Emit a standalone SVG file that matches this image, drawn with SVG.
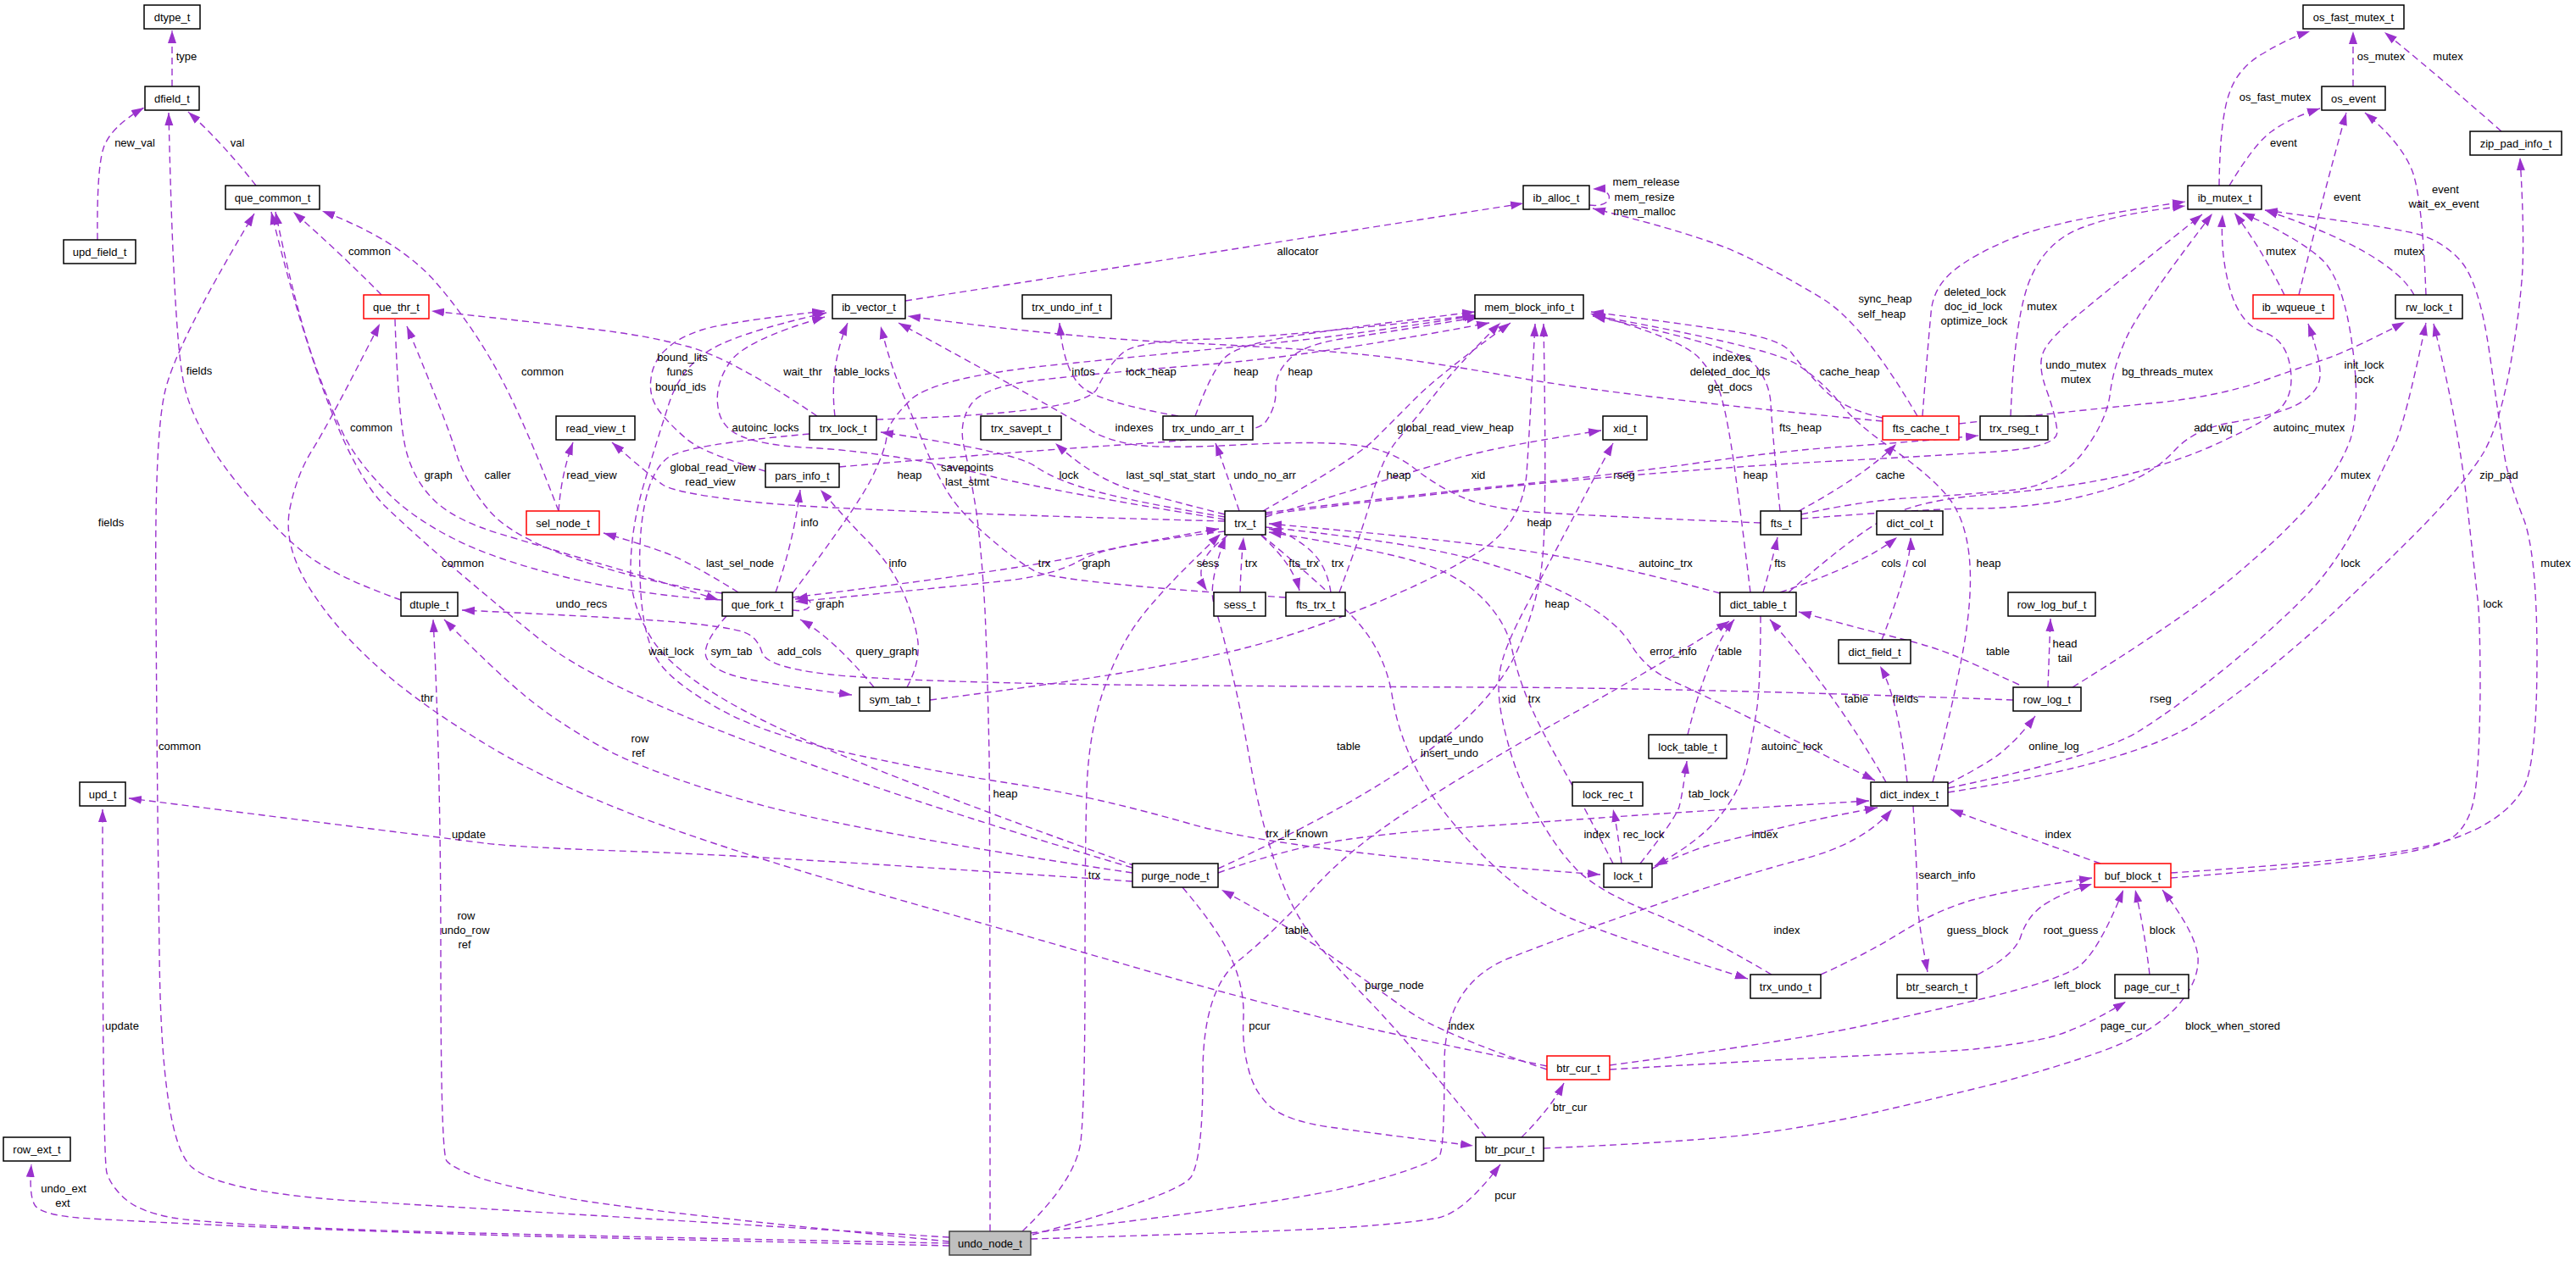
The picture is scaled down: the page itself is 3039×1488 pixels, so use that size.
<svg xmlns="http://www.w3.org/2000/svg" width="3039" height="1488" viewBox="0 0 3039 1488">
<style>
text{font-family:"Liberation Sans",Arial,Helvetica,sans-serif;font-size:13px;fill:#000;text-anchor:middle}
.n rect{fill:#fff;stroke:#000;stroke-width:1.5}
.n.r rect{stroke:#ff0000}
.n.g rect{fill:#bfbfbf;stroke:#404040}
.e path{fill:none;stroke:#9a32cd;stroke-width:1.4;stroke-dasharray:8,5;marker-end:url(#ah)}
</style>
<defs>
<marker id="ah" markerUnits="userSpaceOnUse" markerWidth="16" markerHeight="11" refX="15" refY="5.5" orient="auto"><path d="M0,0.5 L15,5.5 L0,10.5 z" fill="#9a32cd" stroke="none"/></marker>
</defs>
<rect width="3039" height="1488" fill="#fff"/>
<g id="edges" class="e">
<path d="M203,102 L203,36"/>
<path d="M115,283 Q114,200 122,175 Q130,150 170,127"/>
<path d="M302,219 Q263,169 222,132"/>
<path d="M473,708 Q400,682 365,657 Q330,632 279,569 Q228,505 217,453 Q205,400 199,133"/>
<path d="M450,348 Q400,297 346,250"/>
<path d="M659,603 Q620,500 589,442 Q557,383 514,333 Q470,283 380,249"/>
<path d="M852,708 Q760,703 671,682 Q582,660 534,635 Q485,610 456,580 Q427,550 412,525 Q397,500 373,434 Q349,367 325,250"/>
<path d="M1336,1024 Q760,853 640,757 Q520,660 455,598 Q390,535 320,250"/>
<path d="M1120,1460 Q600,1428 431,1418 Q262,1408 226,1377 Q190,1345 188,1123 Q185,900 184,710 Q182,520 194,465 Q205,410 300,252"/>
<path d="M466,377 Q470,500 480,535 Q490,570 515,593 Q540,615 590,630 Q640,645 700,663 Q760,680 848,708"/>
<path d="M852,700 Q760,687 681,660 Q601,633 575,600 Q548,567 538,534 Q528,500 480,385"/>
<path d="M1825,1258 Q1704,1233 1612,1213 Q1520,1193 1358,1147 Q1196,1100 1027,1052 Q857,1003 749,962 Q640,920 563,872 Q485,824 437,779 Q388,733 361,687 Q334,640 342,600 Q350,560 369,530 Q388,500 448,382"/>
<path d="M659,603 Q662,560 676,522"/>
<path d="M1445,615 Q993,603 896,593 Q799,583 782,572 Q765,560 722,522"/>
<path d="M903,556 Q830,535 810,518 Q789,500 777,484 Q765,467 768,447 Q770,427 785,413 Q800,398 829,389 Q857,380 973,367"/>
<path d="M964,491 Q864,423 812,409 Q760,395 695,388 Q630,380 509,367"/>
<path d="M985,491 Q978,433 1000,381"/>
<path d="M1068,355 L1797,240"/>
<path d="M2221,497 Q1908,467 1787,445 Q1665,423 1593,417 Q1520,410 1383,404 Q1245,397 1071,373"/>
<path d="M2077,617 Q1860,608 1809,604 Q1758,600 1728,588 Q1697,575 1669,553 Q1640,530 1597,525 Q1554,520 1460,525 Q1366,530 1333,524 Q1300,517 1287,508 Q1274,498 1060,381"/>
<path d="M1390,491 Q1300,475 1278,458 Q1255,440 1250,381"/>
<path d="M1034,495 Q1279,488 1294,459 Q1308,430 1325,416 Q1342,402 1431,400 Q1520,397 1740,372"/>
<path d="M1410,491 Q1429,439 1444,423 Q1458,407 1529,396 Q1600,385 1740,368"/>
<path d="M990,551 Q1196,533 1338,524 Q1480,515 1493,498 Q1506,480 1505,460 Q1504,440 1522,423 Q1540,405 1595,398 Q1650,390 1745,374"/>
<path d="M1875,242 C1905,246 1906,222 1879,223"/>
<path d="M2262,491 Q2199,383 2151,353 Q2102,323 2054,300 Q2005,277 1879,246"/>
<path d="M2221,493 Q2174,483 2150,458 Q2126,433 2114,417 Q2102,400 2044,391 Q1985,382 1877,368"/>
<path d="M2268,491 Q2275,400 2278,370 Q2280,340 2304,320 Q2328,300 2377,280 Q2425,260 2578,238"/>
<path d="M2372,491 Q2377,367 2397,325 Q2416,283 2458,268 Q2500,252 2578,243"/>
<path d="M1493,607 Q1750,575 1900,563 Q2050,550 2165,544 Q2280,538 2354,533 Q2428,528 2427,509 Q2425,490 2415,462 Q2404,433 2410,417 Q2416,400 2457,367 Q2498,333 2598,253"/>
<path d="M2125,607 Q2200,590 2264,587 Q2328,583 2377,578 Q2425,573 2455,537 Q2484,500 2489,467 Q2493,433 2508,400 Q2522,367 2610,252"/>
<path d="M2125,612 Q2280,600 2329,600 Q2377,600 2426,592 Q2474,583 2508,570 Q2542,557 2566,531 Q2590,505 2636,498 Q2682,490 2707,479 Q2731,467 2736,450 Q2741,433 2723,382"/>
<path d="M2100,603 Q2090,500 2089,475 Q2087,450 2070,430 Q2053,410 1879,373"/>
<path d="M2122,603 Q2200,561 2237,524"/>
<path d="M2080,699 Q2090,665 2097,634"/>
<path d="M2100,699 Q2200,665 2238,634"/>
<path d="M2220,755 Q2255,665 2254,634"/>
<path d="M2250,923 Q2240,825 2218,786"/>
<path d="M2225,923 Q2170,825 2088,731"/>
<path d="M1991,867 Q2015,769 2046,731"/>
<path d="M2077,727 Q2077,800 2073,834 Q2068,867 2061,900 Q2053,933 2029,963 Q2005,993 1952,1022"/>
<path d="M2029,700 Q1956,680 1884,665 Q1811,650 1738,642 Q1665,633 1497,618"/>
<path d="M1493,622 Q1665,640 1738,660 Q1811,680 1860,707 Q1908,733 1925,762 Q1942,790 1974,804 Q2005,817 2212,921"/>
<path d="M1949,1025 Q2000,1000 2033,993 Q2065,985 2108,975 Q2150,965 2215,953"/>
<path d="M1935,1019 Q1976,967 1981,952 Q1985,937 1990,898"/>
<path d="M1913,1019 Q1908,977 1903,955"/>
<path d="M1903,1019 Q1859,933 1840,900 Q1821,867 1806,834 Q1791,800 1784,767 Q1777,733 1746,703 Q1714,673 1654,658 Q1593,643 1497,628"/>
<path d="M1493,610 Q1665,557 1695,548 Q1724,538 1768,529 Q1811,520 1889,508"/>
<path d="M2090,1150 Q2005,1100 1944,1075 Q1883,1050 1859,1025 Q1835,1000 1813,960 Q1790,920 1778,873 Q1765,825 1769,796 Q1772,767 1804,709 Q1835,650 1857,609 Q1879,567 1903,523"/>
<path d="M1493,605 Q1700,580 1798,571 Q1895,561 1998,547 Q2100,532 2175,527 Q2250,522 2334,514"/>
<path d="M1488,631 Q1560,690 1597,729 Q1633,767 1642,819 Q1650,870 1675,915 Q1700,960 1750,1010 Q1800,1060 1854,1084 Q1908,1107 2062,1155"/>
<path d="M1445,610 Q1342,593 1294,580 Q1245,567 1221,550 Q1196,533 1039,510"/>
<path d="M1445,607 Q1390,593 1342,580 Q1293,567 1245,523"/>
<path d="M1462,603 Q1448,561 1434,523"/>
<path d="M1490,603 Q1600,540 1620,520 Q1640,500 1670,470 Q1700,440 1782,381"/>
<path d="M1445,613 Q1245,580 1173,563 Q1100,545 1048,538 Q995,530 948,528 Q900,525 875,515 Q850,505 847,480 Q843,455 860,429 Q876,402 973,374"/>
<path d="M1517,705 Q1245,687 1221,674 Q1196,660 1162,630 Q1128,600 1114,574 Q1099,547 1090,524 Q1080,500 1066,467 Q1051,433 1039,385"/>
<path d="M935,705 Q1196,673 1269,657 Q1342,640 1438,624"/>
<path d="M1445,627 Q1390,633 1342,642 Q1293,650 1269,664 Q1245,677 1197,684 Q1148,690 938,710"/>
<path d="M935,720 C962,724 964,702 938,707"/>
<path d="M871,699 Q808,660 784,652 Q760,643 712,629"/>
<path d="M915,699 Q936,640 944,578"/>
<path d="M1070,811 Q1085,783 1083,758 Q1080,733 1066,700 Q1051,667 1027,642 Q1002,617 968,578"/>
<path d="M1031,811 Q983,753 944,731"/>
<path d="M857,727 Q828,760 833,775 Q838,790 872,799 Q905,807 1005,820"/>
<path d="M955,512 Q808,525 788,540 Q768,555 760,598 Q752,640 756,700 Q760,760 780,785 Q800,810 853,839 Q905,867 1002,889 Q1099,910 1196,925 Q1293,940 1407,973 Q1520,1005 1888,1032"/>
<path d="M1753,1342 Q1665,1233 1617,1183 Q1568,1133 1544,1100 Q1520,1067 1504,1017 Q1487,967 1475,900 Q1463,833 1451,783 Q1439,733 1432,712 Q1425,690 1446,633"/>
<path d="M1206,1453 Q1269,1393 1275,1347 Q1280,1300 1280,1150 Q1280,1000 1282,934 Q1284,867 1301,817 Q1318,767 1342,734 Q1366,700 1440,630"/>
<path d="M1168,1453 Q1168,993 1167,892 Q1165,790 1162,720 Q1158,650 1152,605 Q1145,560 1138,530 Q1130,500 1145,478 Q1160,455 1230,448 Q1300,440 1425,430 Q1550,420 1757,381"/>
<path d="M1216,1462 Q1520,1453 1593,1448 Q1665,1443 1697,1437 Q1728,1430 1770,1374"/>
<path d="M1216,1455 Q1520,1420 1607,1397 Q1694,1373 1699,1362 Q1704,1350 1704,1255 Q1704,1160 1782,1130 Q1859,1100 1956,1067 Q2053,1033 2126,1014 Q2199,995 2232,955"/>
<path d="M1218,1457 Q1390,1410 1405,1389 Q1419,1367 1419,1267 Q1419,1167 1462,1133 Q1505,1098 1549,1049 Q1593,1000 1672,950 Q1750,900 1850,845 Q1950,790 2040,733"/>
<path d="M1120,1465 Q760,1430 671,1414 Q582,1397 558,1387 Q533,1377 527,1370 Q520,1363 520,1132 Q520,900 511,731"/>
<path d="M1336,1030 Q1000,980 880,945 Q760,910 707,880 Q654,850 618,820 Q582,790 524,731"/>
<path d="M1336,1040 Q900,1010 756,1005 Q611,1000 572,995 Q533,990 152,942"/>
<path d="M1120,1467 Q500,1455 371,1449 Q242,1443 204,1437 Q165,1430 148,1415 Q131,1400 126,1384 Q121,1367 121,955"/>
<path d="M1120,1470 Q760,1462 598,1458 Q436,1453 286,1447 Q136,1440 92,1437 Q48,1433 41,1422 Q34,1410 37,1374"/>
<path d="M1340,1022 Q1000,900 900,850 Q800,800 771,757 Q742,713 744,667 Q745,620 760,570 Q775,520 788,480 Q800,440 830,418 Q860,395 975,369"/>
<path d="M1395,1047 Q1440,1100 1454,1134 Q1468,1167 1467,1200 Q1465,1233 1473,1262 Q1480,1290 1500,1307 Q1520,1323 1569,1330 Q1617,1337 1738,1352"/>
<path d="M1825,1262 Q1700,1220 1660,1192 Q1620,1163 1570,1128 Q1520,1093 1441,1050"/>
<path d="M1795,1342 Q1830,1307 1845,1278"/>
<path d="M1821,1355 Q2005,1347 2078,1337 Q2150,1327 2215,1312 Q2280,1297 2353,1279 Q2425,1260 2484,1239 Q2542,1217 2569,1187 Q2595,1157 2593,1129 Q2590,1100 2551,1050"/>
<path d="M1899,1262 Q2102,1250 2191,1246 Q2280,1242 2329,1238 Q2377,1233 2414,1225 Q2450,1217 2508,1182"/>
<path d="M1899,1257 Q2102,1230 2191,1212 Q2280,1193 2353,1175 Q2425,1157 2450,1142 Q2474,1127 2505,1050"/>
<path d="M2536,1150 Q2530,1098 2519,1050"/>
<path d="M2333,1150 Q2377,1127 2384,1105 Q2391,1083 2408,1070 Q2425,1057 2468,1043"/>
<path d="M2148,1150 Q2199,1127 2240,1102 Q2280,1077 2317,1065 Q2353,1053 2468,1036"/>
<path d="M2257,951 Q2262,1033 2262,1058 Q2262,1083 2274,1147"/>
<path d="M2478,1019 Q2425,1000 2383,985 Q2340,970 2301,955"/>
<path d="M2561,1030 Q2716,1020 2796,1010 Q2876,1000 2918,980 Q2960,960 2977,930 Q2993,900 2993,775 Q2993,650 2976,609 Q2959,567 2954,534 Q2949,500 2937,417 Q2925,333 2903,308 Q2881,283 2847,275 Q2813,267 2672,248"/>
<path d="M2561,1036 Q2716,1024 2796,1013 Q2876,1002 2896,986 Q2915,970 2920,935 Q2925,900 2926,817 Q2926,733 2923,707 Q2920,680 2910,590 Q2900,500 2871,382"/>
<path d="M2298,930 Q2474,893 2523,863 Q2571,833 2632,783 Q2692,733 2726,697 Q2760,660 2787,605 Q2813,550 2825,525 Q2837,500 2862,381"/>
<path d="M2298,935 Q2522,900 2595,850 Q2668,800 2741,734 Q2813,667 2862,617 Q2910,567 2930,534 Q2949,500 2961,434 Q2973,367 2976,317 Q2978,267 2973,186"/>
<path d="M2445,811 Q2571,733 2632,683 Q2692,633 2726,594 Q2760,555 2773,518 Q2785,480 2775,407 Q2765,333 2741,308 Q2716,283 2645,251"/>
<path d="M2110,699 Q2200,620 2240,604 Q2280,588 2353,583 Q2425,577 2486,565 Q2547,553 2608,527 Q2668,500 2688,484 Q2707,467 2702,434 Q2697,400 2670,392 Q2643,383 2631,342 Q2619,300 2622,253"/>
<path d="M2695,348 Q2670,297 2636,251"/>
<path d="M2712,348 Q2740,233 2768,133"/>
<path d="M2848,348 Q2820,297 2672,248"/>
<path d="M2862,348 Q2858,240 2847,205 Q2835,170 2790,133"/>
<path d="M2630,219 Q2660,169 2680,155 Q2700,140 2737,128"/>
<path d="M2618,219 Q2619,140 2630,110 Q2640,80 2670,63 Q2700,45 2725,37"/>
<path d="M2776,102 L2776,37"/>
<path d="M2951,155 Q2862,77 2813,38"/>
<path d="M2311,500 Q2474,482 2547,475 Q2619,467 2668,450 Q2716,433 2748,422 Q2780,410 2837,380"/>
<path d="M2298,925 Q2328,910 2353,894 Q2377,877 2401,845"/>
<path d="M2416,811 L2419,730"/>
<path d="M2382,808 Q2328,783 2304,773 Q2280,763 2240,753 Q2199,743 2122,722"/>
<path d="M2375,826 Q2000,812 1760,811 Q1520,810 1310,808 Q1099,805 1002,798 Q905,790 899,770 Q893,750 875,745 Q857,740 809,735 Q760,730 545,720"/>
<path d="M2280,923 Q2304,833 2316,767 Q2328,700 2323,655 Q2318,610 2297,585 Q2276,560 2233,530 Q2189,500 2170,475 Q2150,450 2120,430 Q2090,410 1879,372"/>
<path d="M2065,699 Q2053,600 2046,550 Q2039,500 2032,473 Q2025,445 2005,423 Q1985,400 1876,370"/>
<path d="M1580,699 Q1607,627 1619,584 Q1631,540 1648,520 Q1665,500 1693,465 Q1720,430 1770,381"/>
<path d="M1097,826 Q1245,807 1318,795 Q1390,783 1455,768 Q1520,753 1610,717 Q1700,680 1748,649 Q1796,617 1801,559 Q1805,500 1811,382"/>
<path d="M1437,1025 Q1600,950 1680,890 Q1760,830 1788,772 Q1815,713 1820,657 Q1825,600 1821,382"/>
<path d="M935,700 Q1010,600 1028,565 Q1045,530 1046,515 Q1046,500 1073,473 Q1100,445 1250,430 Q1400,415 1500,405 Q1600,395 1742,372"/>
<path d="M1448,632 Q1402,665 1424,697"/>
<path d="M1463,699 Q1464,665 1467,634"/>
<path d="M1488,632 Q1525,665 1533,697"/>
<path d="M1570,699 Q1565,665 1543,647 Q1520,628 1497,624"/>
<path d="M1437,1030 Q1520,1000 1593,990 Q1665,980 1762,974 Q1859,967 1932,962 Q2005,957 2205,945"/>
</g>
<g id="edge-labels">
<text x="220" y="71">type</text>
<text x="159" y="173">new_val</text>
<text x="280" y="173">val</text>
<text x="436" y="301">common</text>
<text x="235" y="442">fields</text>
<text x="640" y="443">common</text>
<text x="1531" y="301">allocator</text>
<text x="805" y="426">bound_lits</text>
<text x="802" y="443">funcs</text>
<text x="803" y="461">bound_ids</text>
<text x="947" y="443">wait_thr</text>
<text x="1017" y="443">table_locks</text>
<text x="1278" y="443">infos</text>
<text x="1358" y="443">lock_heap</text>
<text x="1470" y="443">heap</text>
<text x="1534" y="443">heap</text>
<text x="1942" y="219">mem_release</text>
<text x="1940" y="237">mem_resize</text>
<text x="1940" y="254">mem_malloc</text>
<text x="2224" y="357">sync_heap</text>
<text x="2220" y="375">self_heap</text>
<text x="2043" y="426">indexes</text>
<text x="2041" y="443">deleted_doc_ids</text>
<text x="2041" y="461">get_docs</text>
<text x="2182" y="443">cache_heap</text>
<text x="2809" y="71">os_mutex</text>
<text x="2888" y="71">mutex</text>
<text x="2684" y="119">os_fast_mutex</text>
<text x="2694" y="173">event</text>
<text x="2769" y="237">event</text>
<text x="2885" y="228">event</text>
<text x="2883" y="245">wait_ex_event</text>
<text x="2691" y="301">mutex</text>
<text x="2842" y="301">mutex</text>
<text x="2330" y="349">deleted_lock</text>
<text x="2328" y="366">doc_id_lock</text>
<text x="2329" y="383">optimize_lock</text>
<text x="2409" y="366">mutex</text>
<text x="2449" y="435">undo_mutex</text>
<text x="2449" y="452">mutex</text>
<text x="2557" y="443">bg_threads_mutex</text>
<text x="2789" y="435">init_lock</text>
<text x="2789" y="452">lock</text>
<text x="438" y="509">common</text>
<text x="517" y="565">graph</text>
<text x="587" y="565">caller</text>
<text x="698" y="565">read_view</text>
<text x="131" y="621">fields</text>
<text x="546" y="669">common</text>
<text x="686" y="717">undo_recs</text>
<text x="504" y="828">thr</text>
<text x="755" y="876">row</text>
<text x="753" y="893">ref</text>
<text x="212" y="885">common</text>
<text x="553" y="989">update</text>
<text x="903" y="509">autoinc_locks</text>
<text x="1338" y="509">indexes</text>
<text x="841" y="556">global_read_view</text>
<text x="838" y="573">read_view</text>
<text x="1073" y="565">heap</text>
<text x="1141" y="556">savepoints</text>
<text x="1141" y="573">last_stmt</text>
<text x="1261" y="565">lock</text>
<text x="1381" y="565">last_sql_stat_start</text>
<text x="1492" y="565">undo_no_arr</text>
<text x="955" y="621">info</text>
<text x="873" y="669">last_sel_node</text>
<text x="1059" y="669">info</text>
<text x="1232" y="669">trx</text>
<text x="1293" y="669">graph</text>
<text x="1425" y="669">sess</text>
<text x="1476" y="669">trx</text>
<text x="979" y="717">graph</text>
<text x="792" y="773">wait_lock</text>
<text x="863" y="773">sym_tab</text>
<text x="943" y="773">add_cols</text>
<text x="1046" y="773">query_graph</text>
<text x="1186" y="941">heap</text>
<text x="1530" y="988">trx_if_known</text>
<text x="1717" y="509">global_read_view_heap</text>
<text x="2124" y="509">fts_heap</text>
<text x="1650" y="565">heap</text>
<text x="1744" y="565">xid</text>
<text x="1916" y="565">rseg</text>
<text x="2071" y="565">heap</text>
<text x="2230" y="565">cache</text>
<text x="1816" y="621">heap</text>
<text x="1538" y="669">fts_trx</text>
<text x="1578" y="669">trx</text>
<text x="1965" y="669">autoinc_trx</text>
<text x="2100" y="669">fts</text>
<text x="2231" y="669">cols</text>
<text x="2264" y="669">col</text>
<text x="1837" y="717">heap</text>
<text x="1974" y="773">error_info</text>
<text x="2041" y="773">table</text>
<text x="1780" y="829">xid</text>
<text x="1810" y="829">trx</text>
<text x="2190" y="829">table</text>
<text x="2248" y="829">fields</text>
<text x="1591" y="885">table</text>
<text x="1712" y="876">update_undo</text>
<text x="1710" y="893">insert_undo</text>
<text x="2114" y="885">autoinc_lock</text>
<text x="2016" y="941">tab_lock</text>
<text x="1884" y="989">index</text>
<text x="1939" y="989">rec_lock</text>
<text x="2082" y="989">index</text>
<text x="2611" y="509">add_wq</text>
<text x="2724" y="509">autoinc_mutex</text>
<text x="2779" y="565">mutex</text>
<text x="2948" y="565">zip_pad</text>
<text x="2346" y="669">heap</text>
<text x="2773" y="669">lock</text>
<text x="3015" y="669">mutex</text>
<text x="2941" y="717">lock</text>
<text x="2357" y="773">table</text>
<text x="2436" y="764">head</text>
<text x="2436" y="781">tail</text>
<text x="2549" y="829">rseg</text>
<text x="2423" y="885">online_log</text>
<text x="2428" y="989">index</text>
<text x="144" y="1215">update</text>
<text x="550" y="1085">row</text>
<text x="549" y="1102">undo_row</text>
<text x="548" y="1119">ref</text>
<text x="75" y="1407">undo_ext</text>
<text x="74" y="1424">ext</text>
<text x="1291" y="1037">trx</text>
<text x="1486" y="1215">pcur</text>
<text x="1530" y="1102">table</text>
<text x="2108" y="1102">index</text>
<text x="1645" y="1167">purge_node</text>
<text x="1724" y="1215">index</text>
<text x="1852" y="1311">btr_cur</text>
<text x="1776" y="1415">pcur</text>
<text x="2297" y="1037">search_info</text>
<text x="2333" y="1102">guess_block</text>
<text x="2443" y="1102">root_guess</text>
<text x="2551" y="1102">block</text>
<text x="2451" y="1167">left_block</text>
<text x="2505" y="1215">page_cur</text>
<text x="2634" y="1215">block_when_stored</text>
</g>
<g id="dtype_t" class="n"><rect x="170" y="6" width="66" height="28"/><text x="203" y="24.5">dtype_t</text></g>
<g id="dfield_t" class="n"><rect x="171" y="102" width="64" height="28"/><text x="203" y="120.5">dfield_t</text></g>
<g id="que_common_t" class="n"><rect x="266" y="219" width="111" height="28"/><text x="321.5" y="237.5">que_common_t</text></g>
<g id="upd_field_t" class="n"><rect x="75" y="283" width="85" height="28"/><text x="117.5" y="301.5">upd_field_t</text></g>
<g id="que_thr_t" class="n r"><rect x="429" y="348" width="77" height="28"/><text x="467.5" y="366.5">que_thr_t</text></g>
<g id="ib_vector_t" class="n"><rect x="982" y="348" width="86" height="28"/><text x="1025" y="366.5">ib_vector_t</text></g>
<g id="trx_undo_inf_t" class="n"><rect x="1206" y="348" width="105" height="28"/><text x="1258.5" y="366.5">trx_undo_inf_t</text></g>
<g id="mem_block_info_t" class="n"><rect x="1740" y="348" width="128" height="28"/><text x="1804" y="366.5">mem_block_info_t</text></g>
<g id="ib_alloc_t" class="n"><rect x="1797" y="219" width="78" height="28"/><text x="1836" y="237.5">ib_alloc_t</text></g>
<g id="os_fast_mutex_t" class="n"><rect x="2717" y="6" width="119" height="28"/><text x="2776.5" y="24.5">os_fast_mutex_t</text></g>
<g id="os_event" class="n"><rect x="2739" y="102" width="75" height="28"/><text x="2776.5" y="120.5">os_event</text></g>
<g id="zip_pad_info_t" class="n"><rect x="2914" y="155" width="108" height="28"/><text x="2968" y="173.5">zip_pad_info_t</text></g>
<g id="ib_mutex_t" class="n"><rect x="2581" y="219" width="87" height="28"/><text x="2624.5" y="237.5">ib_mutex_t</text></g>
<g id="ib_wqueue_t" class="n r"><rect x="2658" y="348" width="95" height="28"/><text x="2705.5" y="366.5">ib_wqueue_t</text></g>
<g id="rw_lock_t" class="n"><rect x="2826" y="348" width="79" height="28"/><text x="2865.5" y="366.5">rw_lock_t</text></g>
<g id="trx_lock_t" class="n"><rect x="955" y="491" width="79" height="28"/><text x="994.5" y="509.5">trx_lock_t</text></g>
<g id="trx_savept_t" class="n"><rect x="1157" y="491" width="95" height="28"/><text x="1204.5" y="509.5">trx_savept_t</text></g>
<g id="trx_undo_arr_t" class="n"><rect x="1372" y="491" width="106" height="28"/><text x="1425" y="509.5">trx_undo_arr_t</text></g>
<g id="xid_t" class="n"><rect x="1891" y="491" width="52" height="28"/><text x="1917" y="509.5">xid_t</text></g>
<g id="fts_cache_t" class="n r"><rect x="2221" y="491" width="90" height="28"/><text x="2266" y="509.5">fts_cache_t</text></g>
<g id="trx_rseg_t" class="n"><rect x="2336" y="491" width="80" height="28"/><text x="2376" y="509.5">trx_rseg_t</text></g>
<g id="read_view_t" class="n"><rect x="656" y="491" width="93" height="28"/><text x="702.5" y="509.5">read_view_t</text></g>
<g id="pars_info_t" class="n"><rect x="903" y="547" width="87" height="28"/><text x="946.5" y="565.5">pars_info_t</text></g>
<g id="sel_node_t" class="n r"><rect x="621" y="603" width="86" height="28"/><text x="664" y="621.5">sel_node_t</text></g>
<g id="trx_t" class="n"><rect x="1445" y="603" width="48" height="28"/><text x="1469" y="621.5">trx_t</text></g>
<g id="fts_t" class="n"><rect x="2077" y="603" width="48" height="28"/><text x="2101" y="621.5">fts_t</text></g>
<g id="dict_col_t" class="n"><rect x="2214" y="603" width="78" height="28"/><text x="2253" y="621.5">dict_col_t</text></g>
<g id="que_fork_t" class="n"><rect x="852" y="699" width="83" height="28"/><text x="893.5" y="717.5">que_fork_t</text></g>
<g id="sess_t" class="n"><rect x="1432" y="699" width="61" height="28"/><text x="1462.5" y="717.5">sess_t</text></g>
<g id="fts_trx_t" class="n"><rect x="1517" y="699" width="70" height="28"/><text x="1552" y="717.5">fts_trx_t</text></g>
<g id="dict_table_t" class="n"><rect x="2029" y="699" width="90" height="28"/><text x="2074" y="717.5">dict_table_t</text></g>
<g id="row_log_buf_t" class="n"><rect x="2369" y="699" width="103" height="28"/><text x="2420.5" y="717.5">row_log_buf_t</text></g>
<g id="dtuple_t" class="n"><rect x="473" y="699" width="67" height="28"/><text x="506.5" y="717.5">dtuple_t</text></g>
<g id="dict_field_t" class="n"><rect x="2169" y="755" width="85" height="28"/><text x="2211.5" y="773.5">dict_field_t</text></g>
<g id="sym_tab_t" class="n"><rect x="1014" y="811" width="83" height="28"/><text x="1055.5" y="829.5">sym_tab_t</text></g>
<g id="row_log_t" class="n"><rect x="2375" y="811" width="80" height="28"/><text x="2415" y="829.5">row_log_t</text></g>
<g id="lock_table_t" class="n"><rect x="1945" y="867" width="92" height="28"/><text x="1991" y="885.5">lock_table_t</text></g>
<g id="upd_t" class="n"><rect x="94" y="923" width="54" height="28"/><text x="121" y="941.5">upd_t</text></g>
<g id="lock_rec_t" class="n"><rect x="1855" y="923" width="83" height="28"/><text x="1896.5" y="941.5">lock_rec_t</text></g>
<g id="dict_index_t" class="n"><rect x="2207" y="923" width="91" height="28"/><text x="2252.5" y="941.5">dict_index_t</text></g>
<g id="purge_node_t" class="n"><rect x="1336" y="1019" width="101" height="28"/><text x="1386.5" y="1037.5">purge_node_t</text></g>
<g id="lock_t" class="n"><rect x="1892" y="1019" width="57" height="28"/><text x="1920.5" y="1037.5">lock_t</text></g>
<g id="buf_block_t" class="n r"><rect x="2471" y="1019" width="90" height="28"/><text x="2516" y="1037.5">buf_block_t</text></g>
<g id="trx_undo_t" class="n"><rect x="2065" y="1150" width="83" height="28"/><text x="2106.5" y="1168.5">trx_undo_t</text></g>
<g id="btr_search_t" class="n"><rect x="2238" y="1150" width="94" height="28"/><text x="2285" y="1168.5">btr_search_t</text></g>
<g id="page_cur_t" class="n"><rect x="2495" y="1150" width="87" height="28"/><text x="2538.5" y="1168.5">page_cur_t</text></g>
<g id="btr_cur_t" class="n r"><rect x="1825" y="1246" width="74" height="28"/><text x="1862" y="1264.5">btr_cur_t</text></g>
<g id="btr_pcur_t" class="n"><rect x="1741" y="1342" width="80" height="28"/><text x="1781" y="1360.5">btr_pcur_t</text></g>
<g id="row_ext_t" class="n"><rect x="4" y="1342" width="79" height="28"/><text x="43.5" y="1360.5">row_ext_t</text></g>
<g id="undo_node_t" class="n g"><rect x="1120" y="1453" width="96" height="28"/><text x="1168" y="1471.5">undo_node_t</text></g>
</svg>
